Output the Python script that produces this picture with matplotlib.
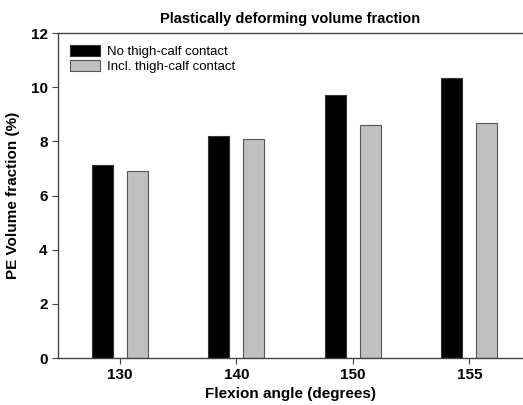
import numpy as np
import matplotlib
matplotlib.use("Agg")
import matplotlib.pyplot as plt

plt.rcParams["font.family"] = ["Liberation Sans", "DejaVu Sans"]

angles = ["130", "140", "150", "155"]
no_contact = [7.12, 8.21, 9.71, 10.34]
incl_contact = [6.92, 8.10, 8.59, 8.67]


def main():
    fig = plt.figure(figsize=(5.23, 4.05), dpi=100)
    ax = fig.add_axes([0.111, 0.116, 0.889, 0.8025])

    x = np.arange(len(angles))
    width = 0.18
    offset = 0.15

    ax.bar(x - offset, no_contact, width, color="black", edgecolor="#333333",
           linewidth=0.8, label="No thigh-calf contact")
    ax.bar(x + offset, incl_contact, width, color="#c0c0c0", edgecolor="#555555",
           linewidth=0.8, label="Incl. thigh-calf contact")

    ax.set_xlim(-0.53, 3.46)
    ax.set_ylim(0, 12)
    ax.set_xticks(x)
    ax.set_xticklabels(angles)
    ax.set_yticks([0, 2, 4, 6, 8, 10, 12])

    for label in ax.get_xticklabels() + ax.get_yticklabels():
        label.set_fontweight("bold")
        label.set_fontsize(11)

    ax.tick_params(direction="out", length=4, width=0.8, color="#444444")
    ax.spines["right"].set_visible(False)
    for side in ["left", "bottom", "top"]:
        ax.spines[side].set_color("#444444")
        ax.spines[side].set_linewidth(1.0)

    ax.set_xlabel("Flexion angle (degrees)", fontsize=11, fontweight="bold", labelpad=3)
    ax.set_ylabel("PE Volume fraction (%)", fontsize=11, fontweight="bold", labelpad=8)
    ax.set_title("Plastically deforming volume fraction", fontsize=10.5,
                 fontweight="bold", pad=7)

    ax.legend(loc="upper left", frameon=False, fontsize=9.5,
              handlelength=2.3, handleheight=0.9, borderaxespad=0.5,
              labelspacing=0.15, handletextpad=0.5)

    fig.savefig("out.png", dpi=100)
    plt.close(fig)


if __name__ == "__main__":
    main()
